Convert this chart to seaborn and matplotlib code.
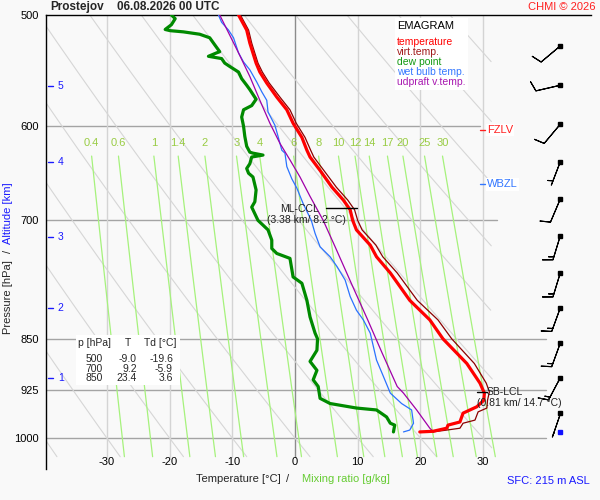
import numpy as np
import matplotlib
matplotlib.use("Agg")
import matplotlib.pyplot as plt
from matplotlib.patches import Rectangle
from matplotlib.ticker import NullLocator, NullFormatter
import seaborn as sns

# --- sounding (hPa / degC) ---
temp_p = [500, 512.5, 523.5, 541, 549, 559, 572, 584, 597, 611, 624, 631, 645, 663, 677, 688, 700,
          711, 729, 743, 763, 798, 824, 850, 885, 914, 929, 940, 950, 960, 974, 979, 984, 989, 990]
temp_t = [-9.0, -7.7, -7.2, -6.2, -5.6, -4.5, -2.9, -1.3, -0.3, 1.1, 1.9, 2.4, 4.0, 5.9, 7.7, 8.8, 9.2,
          9.8, 12.0, 13.0, 15.2, 18.3, 21.5, 23.6, 27.4, 29.5, 30.2, 30.1, 29.0, 26.8, 26.3, 24.4, 24.2, 22.0, 19.9]

virt_p = [500, 512.5, 523.5, 541, 549, 559, 572, 584, 597, 611, 624, 631, 645, 663, 677, 688, 700,
          711, 729, 743, 763, 798, 824, 850, 885, 914, 927, 940, 952, 958, 971, 976, 984, 987, 990]
virt_t = [-8.7, -7.4, -6.9, -5.9, -5.2, -4.1, -2.4, -0.8, 0.2, 1.6, 2.5, 3.0, 4.6, 6.6, 8.4, 9.5, 10.0,
          10.7, 12.9, 14.0, 16.3, 19.5, 22.8, 25.0, 28.6, 30.5, 31.0, 30.7, 30.6, 29.2, 28.7, 26.8, 26.3, 24.2, 22.0]

dew_p = [500, 503, 508, 512, 513, 514, 516, 519, 525, 531, 532, 535, 537, 541, 544, 549, 555, 561, 565,
         574, 580, 584, 591, 600, 610, 620, 626, 627, 629, 631, 638, 643, 648, 652, 666, 679, 685, 700,
         711, 723, 733, 739, 745, 768, 776, 798, 820, 842, 850, 866, 882, 895, 909, 919, 937, 945, 952,
         955, 966, 976, 979, 990]
dew_t = [-19.7, -19.1, -19.7, -20.7, -19.9, -17.8, -15.2, -13.6, -12.8, -12.0, -12.5, -13.8, -11.7,
         -11.2, -10.4, -9.0, -8.5, -7.7, -7.2, -6.2, -6.9, -8.2, -8.5, -8.2, -8.0, -7.7, -7.2, -6.7,
         -5.1, -6.9, -7.2, -7.7, -7.4, -6.7, -6.2, -6.4, -6.9, -5.9, -4.3, -3.7, -3.7, -2.9, -0.8,
         -0.3, 1.1, 1.9, 2.4, 3.2, 3.6, 3.5, 2.4, 3.5, 2.9, 3.7, 4.0, 5.6, 9.8, 13.0, 14.6, 15.2, 15.9, 15.7]

wetbulb_p = [500, 506, 512.5, 519, 532, 540, 547, 558, 567, 575, 586, 599, 610, 624, 627, 641, 654,
             664, 681, 700, 715, 731, 743, 755, 772, 793, 811, 824, 842, 880, 904, 929, 945, 955, 976, 987, 990]
wetbulb_t = [-12.2, -11.7, -10.6, -9.8, -9.0, -8.2, -7.2, -6.1, -5.3, -4.5, -4.3, -3.2, -2.7, -2.1, -1.6,
             -1.3, -0.5, 0.3, 1.3, 2.6, 3.2, 4.0, 5.6, 6.7, 8.0, 8.8, 9.8, 10.9, 12.0, 13.0, 14.1, 15.2,
             17.0, 18.6, 18.9, 18.3, 17.3]

updraft_p = [500, 532, 553, 575, 597, 617, 634, 652, 673, 700, 731, 780, 824, 870, 919, 929, 955, 984, 990]
updraft_t = [-12.0, -9.0, -7.2, -5.6, -4.0, -2.4, -0.8, 0.8, 2.4, 4.5, 6.4, 9.2, 11.6, 13.9, 16.3,
             17.3, 19.4, 21.5, 22.1]

wind_p = [526, 561, 598, 636, 676, 718, 763, 808, 856, 906, 959]
wind_dir = [230, 257, 220, 201, 203, 197, 197, 200, 200, 208, 199]
wind_kt = [10, 10, 10, 5, 10, 15, 15, 15, 15, 15, 2]

p_levels = [600, 700, 850, 925, 1000]
p_ticks = [500, 600, 700, 850, 925, 1000]
t_ticks = [-30, -20, -10, 0, 10, 20, 30]
mix_ratios = [0.4, 0.6, 1, 1.4, 2, 3, 4, 6, 8, 10, 12, 14, 17, 20, 25, 30]
dry_adiabat_t0 = list(range(-40, 100, 10))  # degC at 1000 hPa
alt_km = [1, 2, 3, 4, 5]
alt_p = [906, 808, 719, 636, 561.5]

table_p = [500, 700, 850]
table_t = [-9.0, 9.2, 23.4]
table_td = [-19.6, -5.9, 3.6]

BG = '#f9f9f9'
T_LEFT, T_RIGHT = -39.7, 47.2
P_TOP, P_AXBOT, P_BOT = 500, 1052, 1031
T_BARB = 42.3

sns.set_theme(style="white")
plt.rcParams['font.family'] = ['Liberation Sans', 'DejaVu Sans']

fig = plt.figure(figsize=(6, 5), dpi=100)
fig.patch.set_facecolor(BG)
ax = fig.add_axes([46 / 600, 31 / 500, 545 / 600, 454 / 500])
ax.set_facecolor(BG)
ax.set_yscale('log')


def px(x, y):
    return x / 600, 1 - y / 500


# background grid
grid_right = {600: 29.5, 700: 32.2}
for p in p_levels:
    ax.plot([T_LEFT, grid_right.get(p, 40)], [p, p], color='#a4a4a4', lw=1.0, zorder=1)
for t in t_ticks:
    ax.plot([t, t], [P_TOP, P_BOT], color='#8c8c8c' if t == 0 else '#d4d4d4', lw=1.0, zorder=1)

# dry adiabats
pp = np.geomspace(P_TOP, P_BOT, 200)
for t0 in dry_adiabat_t0:
    tt = (t0 + 273.15) * (pp / 1000) ** 0.286 - 273.15
    tt[tt > 31.5] = np.nan
    ax.plot(tt, pp, color='#d6d6d6', lw=0.8, zorder=1)

# saturation mixing ratio lines
pm = np.geomspace(630, P_BOT, 50)
for w in mix_ratios:
    lnr = np.log(w * pm / (622 + w) / 6.112)
    tt = 243.5 * lnr / (17.67 - lnr)
    ax.plot(tt, pm, color='#a6f27c', lw=0.9, zorder=2)
    ax.text(tt[0], 617, f"{w:g}", color='#99cc44', fontsize=8, ha='center', va='center', zorder=2)

# profiles
profiles = [
    (wetbulb_t, wetbulb_p, '#2a72ff', 0.9),
    (updraft_t, updraft_p, '#a000a8', 0.9),
    (dew_t, dew_p, '#008a00', 2.3),
    (virt_t, virt_p, '#8b0000', 0.9),
    (temp_t, temp_p, '#ff0000', 2.3),
]
for i, (t, p, c, lw) in enumerate(profiles):
    sns.lineplot(x=t, y=p, sort=False, estimator=None, color=c, linewidth=lw, ax=ax, zorder=4 + i * 0.1)

# wind barbs
wd = np.radians(wind_dir)
wk = np.array(wind_kt, dtype=float)
u = -wk * np.sin(wd)
v = -wk * np.cos(wd)
strong = wk >= 5
ax.barbs(np.full(strong.sum(), T_BARB), np.array(wind_p)[strong], u[strong], v[strong],
         length=6, pivot='tip', lw=0.8, color='black', zorder=6)
ax.barbs(np.full((~strong).sum(), T_BARB), np.array(wind_p)[~strong], u[~strong], v[~strong],
         length=6, pivot='tip', lw=0.8, color='black', zorder=6, rounding=False,
         barb_increments=dict(half=1, full=100, flag=500), sizes=dict(height=0.0))
ax.plot([T_BARB] * len(wind_p), wind_p, ls='none', marker='s', ms=2.2, color='black', zorder=7)
ax.plot([T_BARB], [990], ls='none', marker='s', ms=2.2, color='#1010ff', zorder=7)

# axes
ax.set_xlim(T_LEFT, T_RIGHT)
ax.set_ylim(P_AXBOT, P_TOP)
ax.set_xlabel('')
ax.set_ylabel('')
ax.set_xticks([])
ax.yaxis.set_minor_locator(NullLocator())
ax.yaxis.set_minor_formatter(NullFormatter())
ax.set_yticks(p_ticks)
ax.set_yticklabels([str(p) for p in p_ticks])
ax.tick_params(axis='y', length=0, pad=5, labelsize=8, labelcolor='black')
for side in ['right', 'bottom']:
    ax.spines[side].set_visible(False)
for side in ['left', 'top']:
    ax.spines[side].set_color('black')
    ax.spines[side].set_linewidth(1.0)
for t in t_ticks:
    ax.text(t, 1040, str(t), fontsize=8, ha='center', va='center', color='black')

# altitude markers
for km, p in zip(alt_km, alt_p):
    ax.plot([-39.4, -38.6], [p, p], color='#1a1aff', lw=1.0, zorder=3)
    ax.text(-37.8, p, str(km), color='#1a1aff', fontsize=7.5, ha='left', va='center')

# freezing / wet bulb zero levels
ax.text(30.6, 603.6, 'FZLV', color='#ff2020', fontsize=8, ha='left', va='center', zorder=6,
        bbox=dict(facecolor='white', edgecolor='none', pad=1.0))
ax.plot([29.5, 30.3], [603.6, 603.6], color='#ff2020', lw=1.0, zorder=6)
ax.text(30.6, 660, 'WBZL', color='#3377ff', fontsize=8, ha='left', va='center', zorder=6,
        bbox=dict(facecolor='white', edgecolor='none', pad=1.0))
ax.plot([29.5, 30.3], [660, 660], color='#3377ff', lw=1.0, zorder=6)

# condensation levels
ax.plot([4.9, 9.9], [686, 686], color='black', lw=1.0, zorder=6)
ax.text(0.8, 687, 'ML-CCL', fontsize=7.5, ha='center', va='center', color='#202020', zorder=6)
ax.text(1.8, 700, '(3.38 km/ 8.2 °C)', fontsize=7.5, ha='center', va='center', color='#202020', zorder=6)
ax.plot([29.0, 30.6], [927, 927], color='black', lw=1.0, zorder=6)
ax.text(30.6, 928, 'SB-LCL', fontsize=7.5, ha='left', va='center', color='#202020', zorder=6)
ax.text(29.0, 944, '(0.81 km/ 14.7 °C)', fontsize=7.5, ha='left', va='center', color='#202020', zorder=6)

# legend box
fig.patches.append(Rectangle(px(395, 90), 73 / 600, 72 / 500, transform=fig.transFigure,
                             facecolor='white', edgecolor='none', zorder=8))
fig.text(*px(397, 26), 'EMAGRAM', fontsize=8, ha='left', va='center', color='black', zorder=9)
legend_items = [('temperature', '#ff0000'), ('virt.temp.', '#a01818'), ('dew point', '#119911'),
                ('wet bulb temp.', '#3377ff'), ('udpraft v.temp.', '#a818b0')]
for i, (lab, c) in enumerate(legend_items):
    fig.text(*px(397, 42 + 10 * i), lab, fontsize=7.5, ha='left', va='center', color=c, zorder=9)

# table
fig.patches.append(Rectangle(px(76, 385), 104 / 600, 50 / 500, transform=fig.transFigure,
                             facecolor='white', edgecolor='none', zorder=8))
fig.text(*px(78, 343), 'p [hPa]', fontsize=7.5, ha='left', va='center', zorder=9)
fig.text(*px(128, 343), 'T', fontsize=7.5, ha='center', va='center', zorder=9)
fig.text(*px(144, 343), 'Td [°C]', fontsize=7.5, ha='left', va='center', zorder=9)
for i, (p, t, td) in enumerate(zip(table_p, table_t, table_td)):
    y = 359 + 9.5 * i
    fig.text(*px(103, y), f"{p}", fontsize=7.5, ha='right', va='center', zorder=9)
    fig.text(*px(137, y), f"{t:.1f}", fontsize=7.5, ha='right', va='center', zorder=9)
    fig.text(*px(173, y), f"{td:.1f}", fontsize=7.5, ha='right', va='center', zorder=9)

# titles and axis labels
fig.text(*px(50, 7), 'Prostejov', fontsize=8.5, fontweight='bold', ha='left', va='center')
fig.text(*px(117, 7), '06.08.2026 00 UTC', fontsize=8.5, fontweight='bold', ha='left', va='center')
fig.text(*px(596, 7), 'CHMI © 2026', fontsize=8, color='#ff2020', ha='right', va='center')
fig.text(*px(8, 297), 'Pressure [hPa]', fontsize=8, rotation=90, ha='center', va='center')
fig.text(*px(8, 251), '/', fontsize=8, rotation=90, ha='center', va='center')
fig.text(*px(8, 213), 'Altitude [km]', fontsize=8, rotation=90, ha='center', va='center', color='#1a1aff')
fig.text(*px(281, 479), 'Temperature [°C]', fontsize=8, ha='right', va='center')
fig.text(*px(288, 479), '/', fontsize=8, ha='center', va='center')
fig.text(*px(302, 479), 'Mixing ratio [g/kg]', fontsize=8, ha='left', va='center', color='#66cc33')
fig.text(*px(590, 481), 'SFC: 215 m ASL', fontsize=8, ha='right', va='center', color='#1a1aff')

fig.savefig('out.png', dpi=100, facecolor=BG)
